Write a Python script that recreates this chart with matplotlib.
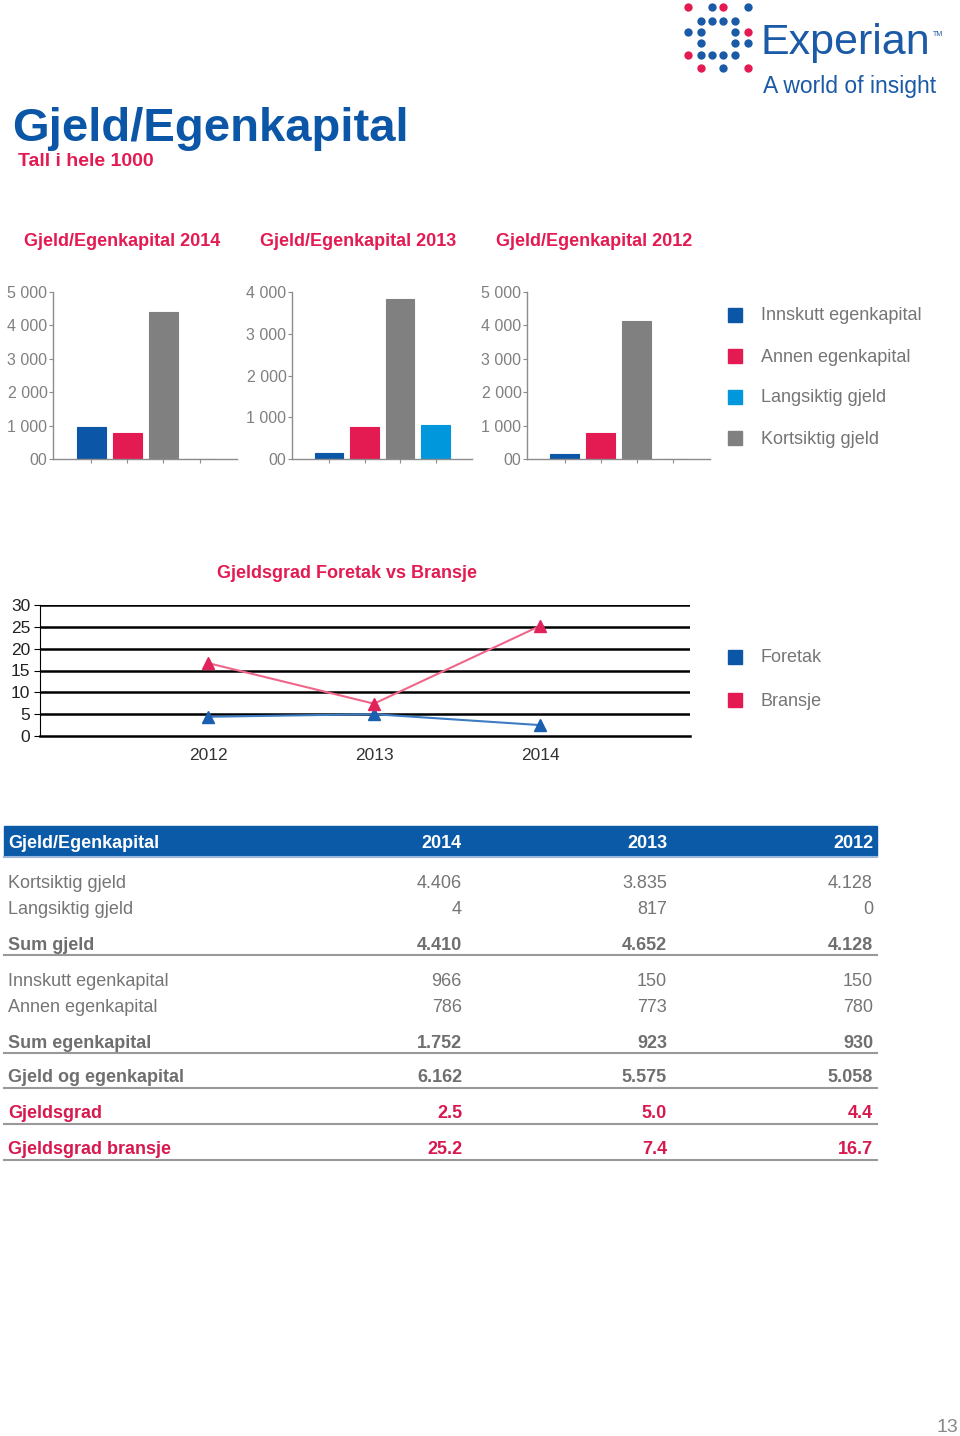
import matplotlib
matplotlib.use('Agg')
import matplotlib.pyplot as plt
from matplotlib.patches import Rectangle

plt.rcParams['font.family'] = ['Liberation Sans', 'DejaVu Sans']

W, H = 960, 1436
BLUE = '#0b56a6'
RED = '#e31b52'
LBLUE = '#0097dc'
GRAY = '#808080'
LOGO = '#1a5aa6'
TXT = '#757575'
DY = 2  # small vertical text offset (pixels)

# ---------------- data ----------------
bar_titles = ['Gjeld/Egenkapital 2014', 'Gjeld/Egenkapital 2013', 'Gjeld/Egenkapital 2012']
bar_series = ['Innskutt egenkapital', 'Annen egenkapital', 'Kortsiktig gjeld', 'Langsiktig gjeld']
innskutt = [966, 150, 150]
annen = [786, 773, 780]
kortsiktig = [4406, 3835, 4128]
langsiktig = [4, 817, 0]
bar_ymax = [5000, 4000, 5000]
bar_legend = ['Innskutt egenkapital', 'Annen egenkapital', 'Langsiktig gjeld', 'Kortsiktig gjeld']

line_years = ['2012', '2013', '2014']
foretak = [4.4, 5.0, 2.5]
bransje = [16.7, 7.4, 25.2]
line_legend = ['Foretak', 'Bransje']

table_header = ['Gjeld/Egenkapital', '2014', '2013', '2012']
table_rows = [
    ('Kortsiktig gjeld', '4.406', '3.835', '4.128', 'normal'),
    ('Langsiktig gjeld', '4', '817', '0', 'normal'),
    ('Sum gjeld', '4.410', '4.652', '4.128', 'sum'),
    ('Innskutt egenkapital', '966', '150', '150', 'normal'),
    ('Annen egenkapital', '786', '773', '780', 'normal'),
    ('Sum egenkapital', '1.752', '923', '930', 'sum'),
    ('Gjeld og egenkapital', '6.162', '5.575', '5.058', 'sum'),
    ('Gjeldsgrad', '2.5', '5.0', '4.4', 'red'),
    ('Gjeldsgrad bransje', '25.2', '7.4', '16.7', 'red'),
]

# ---------------- figure ----------------
fig = plt.figure(figsize=(W / 100, H / 100), dpi=100)
fig.patch.set_facecolor('white')

ov = fig.add_axes([0, 0, 1, 1])
ov.set_xlim(0, W)
ov.set_ylim(H, 0)
ov.axis('off')
ov.set_zorder(0)


def ax_px(l, t, r, b):
    a = fig.add_axes([l / W, 1 - b / H, (r - l) / W, (b - t) / H])
    a.set_zorder(2)
    a.patch.set_alpha(0)
    return a


# Logo
logo_dots = [
    (688, 7, RED), (712, 7, LOGO), (723, 7, RED), (748, 7, LOGO),
    (701, 21, LOGO), (712, 21, LOGO), (723, 21, LOGO), (735, 21, LOGO),
    (688, 32, LOGO), (701, 32, LOGO), (735, 32, LOGO), (748, 32, RED),
    (701, 43, LOGO), (735, 43, LOGO), (748, 43, LOGO),
    (688, 55, RED), (701, 55, LOGO), (712, 55, LOGO), (723, 55, LOGO), (735, 55, LOGO),
    (701, 68, RED), (723, 68, LOGO), (748, 68, RED),
]
for x, y, c in logo_dots:
    ov.scatter([x], [y], s=36, color=c, linewidths=0, zorder=3)
ov.text(760, 43, 'Experian', fontsize=31, color=LOGO, va='center', ha='left')
ov.text(933, 34, 'TM', fontsize=5, color=LOGO, va='center', ha='left')
ov.text(763, 87, 'A world of insight', fontsize=16.5, color=LOGO, va='center', ha='left')

# Titles
ov.text(12, 129, 'Gjeld/Egenkapital', fontsize=34, fontweight='bold', color=BLUE,
        va='center', ha='left')
ov.text(18, 161, 'Tall i hele 1000', fontsize=14, fontweight='bold', color=RED,
        va='center', ha='left')

# ---------------- bar charts ----------------
bar_colors = [BLUE, RED, GRAY, LBLUE]
bar_boxes = [(53, 237), (292, 472), (527, 710)]
title_x = [24, 260, 496]
for i, (l, r) in enumerate(bar_boxes):
    ov.text(title_x[i], 240 + DY, bar_titles[i], fontsize=13, fontweight='bold', color=RED,
            va='center', ha='left')
    ax = ax_px(l, 292, r, 459)
    vals = [innskutt[i], annen[i], kortsiktig[i], langsiktig[i]]
    ax.bar(range(4), vals, width=0.8, color=bar_colors,
           edgecolor=bar_colors, linewidth=0.8)
    ax.set_xlim(-1.05, 4.03)
    ax.set_ylim(0, bar_ymax[i])
    ticks = list(range(0, bar_ymax[i] + 1, 1000))
    ax.set_yticks(ticks)
    ax.set_yticklabels(['00' if v == 0 else f'{v // 1000} 000' for v in ticks])
    ax.set_xticks(range(4))
    ax.set_xticklabels([])
    for s in ['top', 'right']:
        ax.spines[s].set_visible(False)
    for s in ['left', 'bottom']:
        ax.spines[s].set_color('#8c8c8c')
        ax.spines[s].set_linewidth(1)
    ax.tick_params(axis='y', length=3, color='#8c8c8c', labelsize=11.5,
                   labelcolor=GRAY, pad=1)
    ax.tick_params(axis='x', length=3, color='#8c8c8c')

# bar legend
leg_y = [314, 355, 396, 437]
leg_c = [BLUE, RED, LBLUE, GRAY]
for y, c, s in zip(leg_y, leg_c, bar_legend):
    ov.add_patch(Rectangle((728, y - 6), 14, 14, color=c))
    ov.text(761, y + DY, s, fontsize=13, color=TXT, va='center', ha='left')

# ---------------- line chart ----------------
ov.text(347, 571 + DY, 'Gjeldsgrad Foretak vs Bransje', fontsize=13, fontweight='bold',
        color=RED, va='center', ha='center')
lax = ax_px(40, 605, 690, 736)
xs = list(range(len(line_years)))
lax.set_xlim(-1.012, 2.904)
lax.set_ylim(0, 30)
lax.set_yticks(range(0, 31, 5))
for v in range(5, 31, 5):
    lax.axhline(v, color='black', lw=1.8, zorder=1)
lax.plot(xs, foretak, color='#3d7cc2', lw=1.5, marker='^', markersize=9,
         markerfacecolor='#1a5fb0', markeredgecolor='#1a5fb0', zorder=3)
lax.plot(xs, bransje, color='#f0668a', lw=1.5, marker='^', markersize=9,
         markerfacecolor='#e0235a', markeredgecolor='#e0235a', zorder=3)
lax.set_xticks(xs)
lax.set_xticklabels(line_years)
for s in ['top', 'right']:
    lax.spines[s].set_visible(False)
lax.spines['left'].set_color('black')
lax.spines['bottom'].set_color('black')
lax.spines['bottom'].set_linewidth(1.8)
lax.tick_params(axis='y', length=4, labelsize=12.5, labelcolor='#222222', pad=3)
lax.tick_params(axis='x', length=0, labelsize=12.5, labelcolor='#333333', pad=9)

for y, c, s in zip([656, 699], [BLUE, RED], line_legend):
    ov.add_patch(Rectangle((728, y - 6), 14, 14, color=c))
    ov.text(761, y + DY, s, fontsize=13, color=TXT, va='center', ha='left')

# ---------------- table ----------------
col_x = [8, 462, 667, 873]
ov.add_patch(Rectangle((4, 826), 873, 30, color='#0b5aa8'))
ov.plot([4, 877], [857, 857], color='#9bb6d8', lw=1.5)
for j, h in enumerate(table_header):
    ov.text(col_x[j], 841 + DY, h, fontsize=13, fontweight='bold', color='white',
            va='center', ha='left' if j == 0 else 'right')

row_y = [881, 907, 943, 979, 1005, 1041, 1076, 1112, 1148]
for y, row in zip(row_y, table_rows):
    label, a, b, c, style = row
    if style == 'normal':
        col, wt = TXT, 'normal'
    elif style == 'sum':
        col, wt = '#6f6f6f', 'bold'
    else:
        col, wt = '#d8194f', 'bold'
    for j, s in enumerate([label, a, b, c]):
        ov.text(col_x[j], y + DY, s, fontsize=13, fontweight=wt, color=col,
                va='center', ha='left' if j == 0 else 'right')
    if style != 'normal':
        ov.plot([4, 877], [y + 12, y + 12], color='#999999', lw=1.5)

ov.text(958, 1428, '13', fontsize=14, color='#888888', va='center', ha='right')

fig.savefig('out.png', dpi=100, facecolor='white')
